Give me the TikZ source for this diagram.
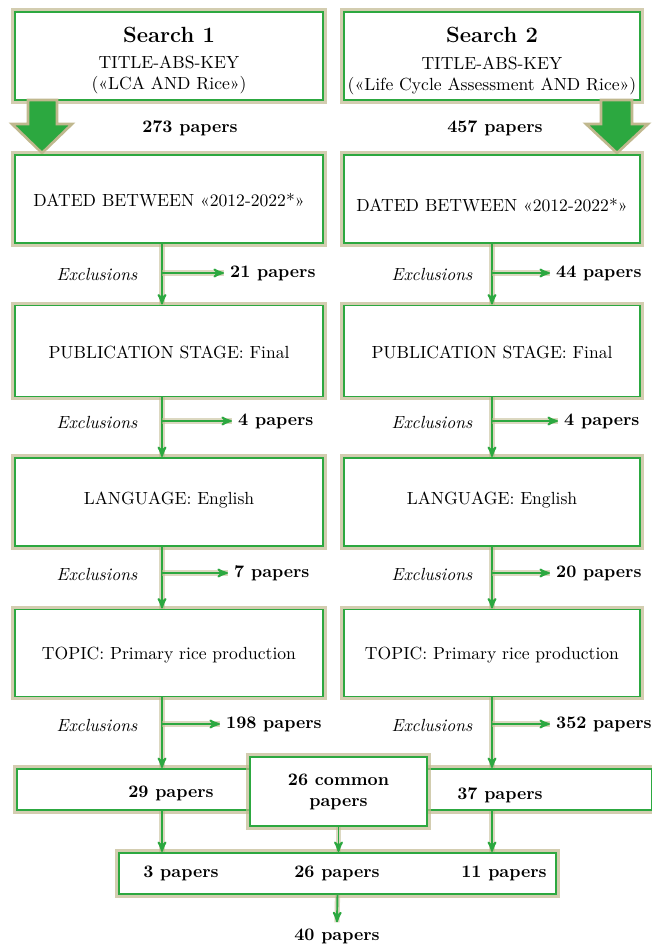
\documentclass[tikz,border=0pt]{standalone}
\usetikzlibrary{arrows}

\definecolor{boxgreen}{RGB}{44,168,64}
\definecolor{glow}{RGB}{192,184,142}

\tikzset{
  stagebox/.style={rectangle, draw=boxgreen, line width=1.1pt, fill=white,
    preaction={draw=glow, line width=4.5pt, opacity=.7}},
  flow/.style={draw=boxgreen, line width=1.1pt,
    preaction={-, draw=glow, line width=3pt, opacity=.55}},
  cnt/.style={font=\fontsize{10}{12}\selectfont\bfseries},
  excl/.style={font=\fontsize{10}{12}\selectfont\itshape},
  txt/.style={font=\fontsize{10}{12}\selectfont, align=center},
}

\begin{document}
\begin{tikzpicture}[x=0.02cm, y=-0.02cm, ->, >=stealth']

    \useasboundingbox (0,0) rectangle (652,947);

    % search boxes
    \node[stagebox, minimum width=6.16cm, minimum height=1.76cm] (s1) at (169,56) {};
    \node[txt] at (169,35) {\fontsize{12.5}{14}\selectfont\bfseries Search 1};
    \node[txt] at (169,75) {TITLE-ABS-KEY\\(«LCA AND Rice»)};

    \node[stagebox, minimum width=5.92cm, minimum height=1.76cm] (s2) at (492,56) {};
    \node[txt] at (492,35) {\fontsize{12.5}{14}\selectfont\bfseries Search 2};
    \node[txt] at (492,76) {TITLE-ABS-KEY\\(«Life Cycle Assessment AND Rice»)};

    % big arrows
    \filldraw[-, draw=glow, fill=boxgreen, line width=1.5pt]
      (28,100) -- (57,100) -- (57,124) -- (72,124) -- (42,153) -- (12,124) -- (28,124) -- cycle;
    \filldraw[-, draw=glow, fill=boxgreen, line width=1.5pt]
      (601,100) -- (632,100) -- (632,124) -- (648,124) -- (617,153) -- (586,124) -- (601,124) -- cycle;
    \node[cnt] (n273) at (190,128) {273 papers};
    \node[cnt] (n457) at (495,128) {457 papers};

    % stage boxes
    \node[stagebox, minimum width=6.16cm, minimum height=1.76cm] (d1) at (169,199) {};
    \node[txt] at (169,200) {DATED BETWEEN «2012-2022*»};
    \node[stagebox, minimum width=5.92cm, minimum height=1.76cm] (d2) at (492,199) {};
    \node[txt] at (492,205) {DATED BETWEEN «2012-2022*»};

    \node[stagebox, minimum width=6.16cm, minimum height=1.82cm] (p1) at (169,351) {};
    \node[txt] at (169,352) {PUBLICATION STAGE: Final};
    \node[stagebox, minimum width=5.92cm, minimum height=1.82cm] (p2) at (492,351) {};
    \node[txt] at (492,352) {PUBLICATION STAGE: Final};

    \node[stagebox, minimum width=6.16cm, minimum height=1.76cm] (l1) at (169,502) {};
    \node[txt] at (169,500) {LANGUAGE: English};
    \node[stagebox, minimum width=5.92cm, minimum height=1.76cm] (l2) at (492,502) {};
    \node[txt] at (492,500) {LANGUAGE: English};

    \node[stagebox, minimum width=6.16cm, minimum height=1.74cm] (t1) at (169,653) {};
    \node[txt] at (169,655) {TOPIC: Primary rice production};
    \node[stagebox, minimum width=5.92cm, minimum height=1.74cm] (t2) at (492,653) {};
    \node[txt] at (492,655) {TOPIC: Primary rice production};

    % exclusion branch points
    \coordinate (xa1) at (162,273);
    \coordinate (xb1) at (492,273);
    \coordinate (xa2) at (162,421);
    \coordinate (xb2) at (492,421);
    \coordinate (xa3) at (162,573);
    \coordinate (xb3) at (492,573);
    \coordinate (xa4) at (162,724);
    \coordinate (xb4) at (492,724);

    \node[excl] at (97,274) {Exclusions};
    \node[excl] at (432,274) {Exclusions};
    \node[excl] at (97,422) {Exclusions};
    \node[excl] at (432,422) {Exclusions};
    \node[excl] at (97,574) {Exclusions};
    \node[excl] at (432,574) {Exclusions};
    \node[excl] at (97,725) {Exclusions};
    \node[excl] at (432,725) {Exclusions};

    \node[cnt, anchor=west] (ea1) at (224,273) {21 papers};
    \node[cnt, anchor=west] (eb1) at (550,273) {44 papers};
    \node[cnt, anchor=west] (ea2) at (232,421) {4 papers};
    \node[cnt, anchor=west] (eb2) at (558,421) {4 papers};
    \node[cnt, anchor=west] (ea3) at (228,573) {7 papers};
    \node[cnt, anchor=west] (eb3) at (550,573) {20 papers};
    \node[cnt, anchor=west] (ea4) at (220,724) {198 papers};
    \node[cnt, anchor=west] (eb4) at (550,724) {352 papers};

    % merge
    \node[stagebox, minimum width=12.7cm, minimum height=0.82cm] (bar) at (334.5,789.5) {};
    \node[cnt] at (171,793) {29 papers};
    \node[cnt] at (500,795) {37 papers};
    \node[stagebox, minimum width=3.54cm, minimum height=1.38cm] (com) at (338.5,791.5) {};
    \node[cnt, align=center] at (com.center) {26 common\\papers};

    \node[stagebox, minimum width=8.74cm, minimum height=0.82cm] (fin) at (337.5,873.5) {};
    \node[cnt] at (181,873) {3 papers};
    \node[cnt] at (337,873) {26 papers};
    \node[cnt] at (504,873) {11 papers};

    \node[cnt] (tot) at (337,936) {40 papers};

    \path
    % left column
    (d1.south -| xa1) edge [flow] (xa1 |- p1.north)
    (xa1) edge [flow] (ea1.west)
    (p1.south -| xa2) edge [flow] (xa2 |- l1.north)
    (xa2) edge [flow] (ea2.west)
    (l1.south -| xa3) edge [flow] (xa3 |- t1.north)
    (xa3) edge [flow] (ea3.west)
    (t1.south -| xa4) edge [flow] (xa4 |- bar.north)
    (xa4) edge [flow] (ea4.west)
    % right column
    (d2.south -| xb1) edge [flow] (xb1 |- p2.north)
    (xb1) edge [flow] (eb1.west)
    (p2.south -| xb2) edge [flow] (xb2 |- l2.north)
    (xb2) edge [flow] (eb2.west)
    (l2.south -| xb3) edge [flow] (xb3 |- t2.north)
    (xb3) edge [flow] (eb3.west)
    (t2.south -| xb4) edge [flow] (xb4 |- bar.north)
    (xb4) edge [flow] (eb4.west)
    % bottom
    (bar.south -| xa4) edge [flow] (xa4 |- fin.north)
    (bar.south -| xb4) edge [flow] (xb4 |- fin.north)
    (com.south) edge [flow] (com.south |- fin.north)
    (fin.south) edge [flow] (tot.north);

\end{tikzpicture}
\end{document}
